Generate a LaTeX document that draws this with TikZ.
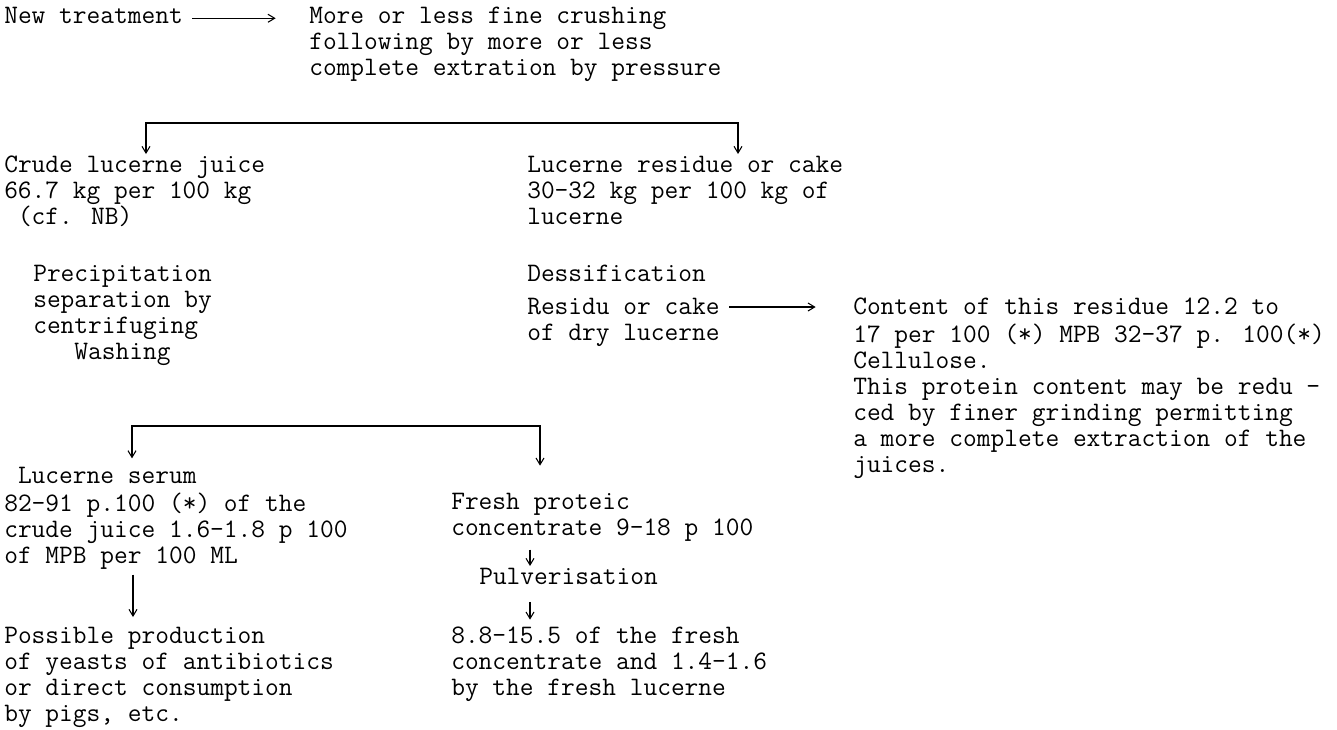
\documentclass[tikz,border=0pt]{standalone}
\usetikzlibrary{arrows.meta}
\newcommand\typer{\ttfamily\fontsize{20}{19.5}\selectfont}
\tikzset{
	blk/.style={anchor=north west, align=left, inner sep=0pt, font=\typer},
	arr/.style={-{Straight Barb[length=5pt,width=6pt]}, line width=0.8pt},
	fork/.style={{Straight Barb[length=5pt,width=6pt]}-{Straight Barb[length=5pt,width=6pt]}, line width=0.8pt}
}
\begin{document}
\begin{tikzpicture}[x=0.75pt, y=-0.75pt]
			%%%%% START %%%%%
			\useasboundingbox (0,0) rectangle (1337,729);
			
			\node[blk] (newtr) at (4,5) {\strut New treatment};
			\node[blk] (crush) at (309,5) {\strut More or less fine crushing\\following by more or less\\complete extration by pressure};
			
			\node[blk] (juice) at (4,154) {\strut Crude lucerne juice\\66.7 kg per 100 kg\\~(cf. NB)};
			\node[blk] (resid) at (527,154) {\strut Lucerne residue or cake\\30-32 kg per 100 kg of\\lucerne};
			
			\node[blk] (precip) at (33,263) {\strut Precipitation\\separation by\\centrifuging\\~~~Washing};
			\node[blk] (dessif) at (527,263) {\strut Dessification};
			\node[blk] (drycake) at (527,296) {\strut Residu or cake\\of dry lucerne};
			\node[blk] (content) at (853,296) {\strut Content of this residue 12.2 to\\17 per 100 (*) MPB 32-37 p. 100(*)\\Cellulose.\\This protein content may be redu -\\ced by finer grinding permitting\\a more complete extraction of the\\juices.};
			
			\node[blk] (serum) at (4,465) {\strut ~Lucerne serum\\82-91 p.100 (*) of the\\crude juice 1.6-1.8 p 100\\of MPB per 100 ML};
			\node[blk] (fresh) at (451,491) {\strut Fresh proteic\\concentrate 9-18 p 100};
			\node[blk] (pulv) at (479,566) {\strut Pulverisation};
			\node[blk] (result) at (451,625) {\strut 8.8-15.5 of the fresh\\concentrate and 1.4-1.6\\by the fresh lucerne};
			\node[blk] (possible) at (4,625) {\strut Possible production\\of yeasts of antibiotics\\or direct consumption\\by pigs, etc.};
			
			% the two splits
			\coordinate (fork1l) at (146,123);
			\coordinate (fork1r) at (738,123);
			\coordinate (fork2l) at (132,426);
			\coordinate (fork2r) at (540,426);
			\coordinate (col1) at (133,0);
			\coordinate (col2) at (530,0);
			
			\draw[arr, shorten <=7pt, shorten >=25pt] (newtr.east) -- (newtr.east -| crush.west);
			\draw[fork] (fork1l |- juice.north) -- (fork1l) -- (fork1r) -- (fork1r |- resid.north);
			\draw[arr, shorten <=7pt, shorten >=28pt] (drycake.north east) ++(0,11) coordinate (dc1) (dc1) -- (dc1 -| content.west);
			\draw[fork, shorten <=5pt, shorten >=19pt] (fork2l |- serum.north) -- (fork2l) -- (fork2r) -- (fork2r |- fresh.north);
			\draw[arr, shorten <=4pt, shorten >=6pt] (col1 |- serum.south) -- (col1 |- possible.north);
			\draw[arr, shorten <=6pt] (col2 |- fresh.south) -- (col2 |- pulv.north);
			\draw[arr, shorten <=7pt, shorten >=4pt] (col2 |- pulv.south) -- (col2 |- result.north);
			
			%%%%% END %%%%%
		\end{tikzpicture}
\end{document}
